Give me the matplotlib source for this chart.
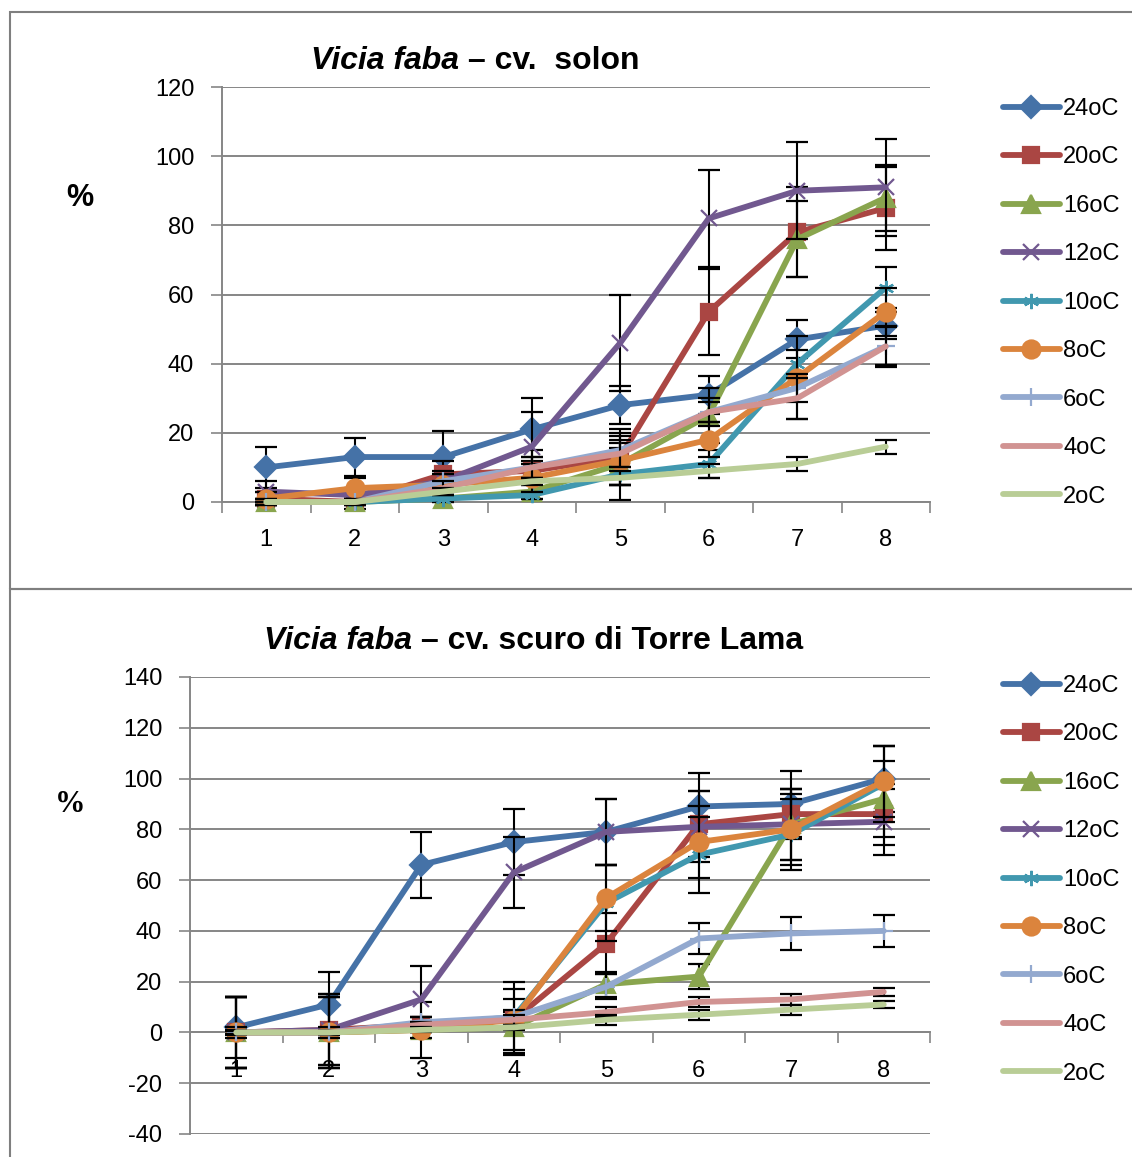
import matplotlib
matplotlib.use('Agg')
import matplotlib.pyplot as plt
from matplotlib.patches import Rectangle
import numpy as np

plt.rcParams['font.family'] = ['Liberation Sans', 'DejaVu Sans']
plt.rcParams['axes.unicode_minus'] = False

# ---- data ----
days = [1, 2, 3, 4, 5, 6, 7, 8]
temps = ['24oC', '20oC', '16oC', '12oC', '10oC', '8oC', '6oC', '4oC', '2oC']

# cv. solon
solon_24 = [10, 13, 13, 21, 28, 31, 47, 51]
solon_20 = [1, 0, 8, 9, 13, 55, 78, 85]
solon_16 = [0, 0, 1, 3, 11, 25, 76, 88]
solon_12 = [3, 2, 6, 16, 46, 82, 90, 91]
solon_10 = [0, 0, 1, 2, 8, 11, 40, 62]
solon_8 = [1, 4, 5, 7, 12, 18, 36, 55]
solon_6 = [0, 0, 6, 10, 15, 26, 33, 45]
solon_4 = [0, 0, 4, 10, 14, 26, 30, 45]
solon_2 = [0, 0, 3, 6, 7, 9, 11, 16]

solon_err_24 = [6, 5.5, 7.5, 9, 5.5, 5.5, 5.5, 4]
solon_err_20 = [2, 2, 4, 6, 8, 12.5, 13, 12]
solon_err_16 = [1, 1, 1, 2, 6, 8, 11, 9.5]
solon_err_12 = [3, 2, 3, 10, 14, 14, 14, 14]
solon_err_10 = [1, 1, 1, 1, 7.5, 4, 4, 6]
solon_err_8 = [2, 3, 3, 4, 7, 5, 12, 7]
solon_err_6 = [1, 1, 2, 3, 5, 4, 4, 6]
solon_err_4 = [1, 1, 2, 3, 4, 3, 6, 5.5]
solon_err_2 = [0, 0, 1, 1, 2, 2, 2, 2]

# cv. scuro di Torre Lama
scuro_24 = [2, 11, 66, 75, 79, 89, 90, 100]
scuro_20 = [0, 1, 3, 5, 35, 82, 86, 86]
scuro_16 = [0, 0, 1, 2, 19, 22, 82, 92]
scuro_12 = [0, 1, 13, 63, 79, 81, 82, 83]
scuro_10 = [0, 0, 3, 6, 51, 70, 78, 98]
scuro_8 = [0, 0, 1, 5, 53, 75, 80, 99]
scuro_6 = [0, 0, 4, 6, 18, 37, 39, 40]
scuro_4 = [0, 0, 3, 5, 8, 12, 13, 16]
scuro_2 = [0, 0, 1, 2, 5, 7, 9, 11]

scuro_err_24 = [12, 13, 13, 13, 13, 13, 13, 13]
scuro_err_20 = [14, 14, 3, 3, 12, 13, 10, 12]
scuro_err_16 = [14, 14, 11, 11, 5, 5, 14, 15]
scuro_err_12 = [14, 14, 13, 14, 13, 14, 14, 13]
scuro_err_10 = [14, 14, 3, 14, 15, 15, 14, 15]
scuro_err_8 = [14, 14, 3, 12, 13, 14, 14, 14]
scuro_err_6 = [2, 2, 2, 3, 5, 6, 6.5, 6.3]
scuro_err_4 = [1, 1, 1, 2, 2, 2, 2, 1.5]
scuro_err_2 = [0.5, 0.5, 1, 1, 2, 2, 2, 1.5]

solon = [solon_24, solon_20, solon_16, solon_12, solon_10, solon_8, solon_6, solon_4, solon_2]
solon_err = [solon_err_24, solon_err_20, solon_err_16, solon_err_12, solon_err_10,
             solon_err_8, solon_err_6, solon_err_4, solon_err_2]
scuro = [scuro_24, scuro_20, scuro_16, scuro_12, scuro_10, scuro_8, scuro_6, scuro_4, scuro_2]
scuro_err = [scuro_err_24, scuro_err_20, scuro_err_16, scuro_err_12, scuro_err_10,
             scuro_err_8, scuro_err_6, scuro_err_4, scuro_err_2]

# excel 2007 style
colors = ['#4572A7', '#AA4643', '#89A54E', '#71588F', '#4198AF',
          '#DB843D', '#93A9CF', '#D19392', '#B9CD96']
markers = ['D', 's', '^', 'x', (6, 2, 0), 'o', '+', 'None', 'None']
msizes = [11.5, 11.5, 13, 11, 11, 13, 13, 0, 0]
GRID = '#868686'


def draw_panel(ax, series, errors, ylim, yticks, legend_top):
    for i, (vals, err) in enumerate(zip(series, errors)):
        ax.errorbar(days, vals, yerr=err, color=colors[i], lw=4.2,
                    marker=markers[i], ms=msizes[i], mew=1.6,
                    solid_joinstyle='round', solid_capstyle='round',
                    ecolor='black', elinewidth=1.5, capsize=8, capthick=1.5,
                    label=temps[i], zorder=3 + i * 0.2, clip_on=False)
    ax.set_xlim(0.5, 8.5)
    ax.set_ylim(*ylim)
    ax.set_yticks(yticks)
    ax.set_xticks(days)
    ax.set_xticks(np.arange(0.5, 9, 1), minor=True)
    ax.tick_params(axis='x', which='major', length=0, pad=19.5, labelsize=17)
    ax.tick_params(axis='x', which='minor', length=8, width=1.2, color=GRID, direction='out')
    ax.tick_params(axis='y', length=8, width=1.2, color=GRID, pad=12, labelsize=17)
    ax.yaxis.grid(True, color=GRID, lw=1.4)
    ax.set_axisbelow(True)
    for s in ['top', 'right']:
        ax.spines[s].set_visible(False)
    ax.spines['left'].set_color(GRID)
    ax.spines['left'].set_linewidth(1.4)
    ax.spines['bottom'].set_color(GRID)
    ax.spines['bottom'].set_linewidth(1.4)
    ax.spines['bottom'].set_position(('data', 0))

    handles = [c[0] for c in ax.containers]
    ax.legend(handles, temps, loc='upper left', frameon=False,
              bbox_to_anchor=(1003 / 1132, legend_top), bbox_transform=fig.transFigure,
              borderpad=0, borderaxespad=0, handlelength=2.4, handletextpad=0.15,
              labelspacing=1.12, fontsize=17)


fig = plt.figure(figsize=(11.32, 11.57), dpi=100)

# panel frames
fig.add_artist(Rectangle((10 / 1132, 1 - 589 / 1157), 1.2, 577 / 1157,
                         transform=fig.transFigure, fill=False, ec='#7F7F7F', lw=1.5))
fig.add_artist(Rectangle((10 / 1132, -0.2), 1.2, 1 - 589 / 1157 + 0.2,
                         transform=fig.transFigure, fill=False, ec='#7F7F7F', lw=1.5))

ax1 = fig.add_axes([222 / 1132, 1 - 502 / 1157, 708 / 1132, 415 / 1157])
draw_panel(ax1, solon, solon_err, (0, 120), np.arange(0, 121, 20), 1 - 98 / 1157)

ax2 = fig.add_axes([190 / 1132, 1 - 1134 / 1157, 740 / 1132, 457 / 1157])
draw_panel(ax2, scuro, scuro_err, (-40, 140), np.arange(-40, 141, 20), 1 - 675 / 1157)

# titles
fig.text(459 / 1132, 1 - 61 / 1157, 'Vicia faba', ha='right', va='center',
         fontsize=23, fontweight='bold', fontstyle='italic')
fig.text(459 / 1132, 1 - 61 / 1157, ' \u2013 cv.  solon', ha='left', va='center',
         fontsize=23, fontweight='bold')
fig.text(412 / 1132, 1 - 641 / 1157, 'Vicia faba', ha='right', va='center',
         fontsize=23, fontweight='bold', fontstyle='italic')
fig.text(412 / 1132, 1 - 641 / 1157, ' \u2013 cv. scuro di Torre Lama', ha='left', va='center',
         fontsize=23, fontweight='bold')

fig.text(80 / 1132, 1 - 198 / 1157, '%', ha='center', va='center', fontsize=22, fontweight='bold')
fig.text(70 / 1132, 1 - 804 / 1157, '%', ha='center', va='center', fontsize=22, fontweight='bold',
         family=['Liberation Serif', 'DejaVu Serif'])

fig.savefig('out.png', dpi=100)
